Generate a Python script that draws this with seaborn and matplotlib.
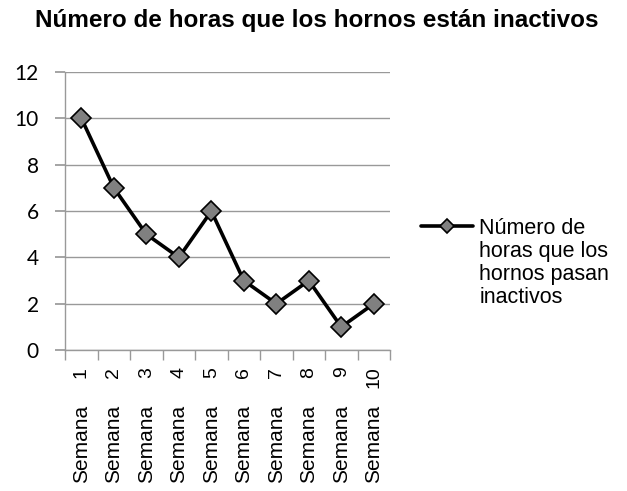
import matplotlib
matplotlib.use("Agg")
import matplotlib.pyplot as plt
import matplotlib.transforms as mtransforms
import numpy as np
import pandas as pd
import seaborn as sns

# Data
semanas = [1, 2, 3, 4, 5, 6, 7, 8, 9, 10]
horas = [10, 7, 5, 4, 6, 3, 2, 3, 1, 2]
serie = "Número de\nhoras que los\nhornos pasan\ninactivos"
titulo = "Número de horas que los hornos están inactivos"

df = pd.DataFrame({"semana": semanas, "horas": horas})

sns.set_theme(style="white")
plt.rcParams["font.family"] = ["Liberation Sans", "DejaVu Sans"]
plt.rcParams["text.color"] = "black"

fig = plt.figure(figsize=(6.27, 4.91), dpi=100)
ax = fig.add_axes([0.104, 0.287, 0.518, 0.566])

sns.lineplot(
    data=df, x="semana", y="horas", ax=ax,
    color="black", linewidth=2.6, marker="D", markersize=10,
    markerfacecolor="#808080", markeredgecolor="black", markeredgewidth=1.2,
    label=serie,
)

# Axes, grid and ticks
ax.set_xlim(0.5, 10.5)
ax.set_ylim(0, 12)
ax.set_yticks(np.arange(0, 13, 2))
ax.yaxis.grid(True, color="#999999", linewidth=1)
ax.set_axisbelow(True)
for side in ["top", "right"]:
    ax.spines[side].set_visible(False)
for side in ["left", "bottom"]:
    ax.spines[side].set_color("#999999")
    ax.spines[side].set_linewidth(1)

ax.tick_params(axis="y", which="major", left=True, length=7, color="#999999",
               labelsize=15, pad=12, labelcolor="black")
for lbl in ax.get_yticklabels():
    lbl.set_family(["Lato", "DejaVu Sans"])

ax.set_xticks(semanas)
ax.set_xticklabels([str(s) for s in semanas], rotation=90, fontsize=14, va="top")
ax.set_xticks(np.arange(0.5, 11, 1), minor=True)
ax.tick_params(axis="x", which="major", bottom=False, pad=6, labelcolor="black")
ax.tick_params(axis="x", which="minor", bottom=True, length=7, color="#999999")

# "Semana" part of each category label
trans = mtransforms.blended_transform_factory(ax.transData, ax.transAxes)
for s in semanas:
    ax.text(s, -0.478, "Semana", rotation=90, ha="center", va="bottom",
            fontsize=15, transform=trans)

ax.set_xlabel("")
ax.set_ylabel("")

fig.text(0.505, 0.958, titulo, fontsize=17.5, fontweight="bold",
         ha="center", va="center")

leg = ax.legend(loc="upper left", bbox_to_anchor=(1.07, 0.505), frameon=False,
                fontsize=15.5, handlelength=2.4, handletextpad=0.3,
                borderaxespad=0)
for t in leg.get_texts():
    t.set_linespacing(1.12)
leg.legend_handles[0].set_markersize(7.5)
# put the line marker level with the first text line
for col in leg._legend_handle_box.get_children():
    for hp in col.get_children():
        hp.align = "top"

fig.savefig("out.png", dpi=100)
